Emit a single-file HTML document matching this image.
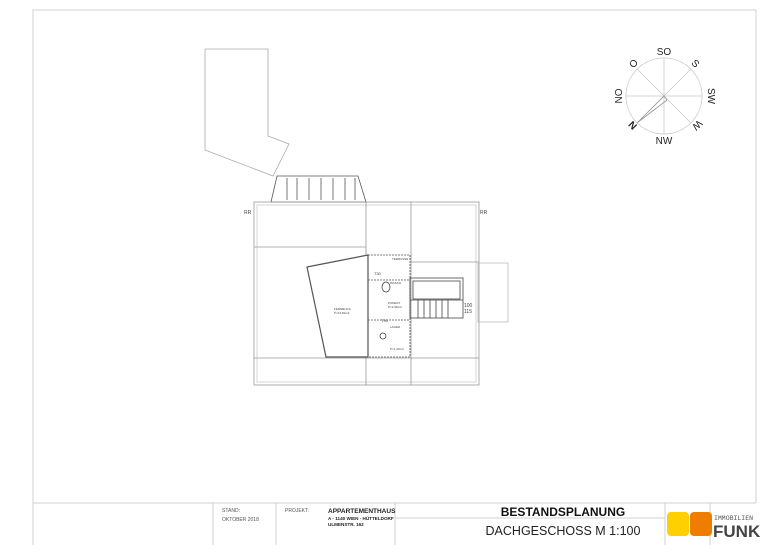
<!DOCTYPE html>
<html><head><meta charset="utf-8"><style>
html,body{margin:0;padding:0;background:#fff;}
svg{display:block;font-family:"Liberation Sans",sans-serif;}
</style></head><body>
<svg width="770" height="545" viewBox="0 0 770 545" xmlns="http://www.w3.org/2000/svg">
<!-- frame -->
<g fill="none" stroke="#d0d0d0" stroke-width="1">
<polyline points="33,545 33,10 756,10 756,503"/>
<line x1="33" y1="503" x2="756" y2="503"/>
<line x1="213" y1="503" x2="213" y2="545"/>
<line x1="276" y1="503" x2="276" y2="545"/>
<line x1="395" y1="503" x2="395" y2="545"/>
<line x1="395" y1="518" x2="665" y2="518"/>
<line x1="665" y1="503" x2="665" y2="545"/>
<line x1="710" y1="503" x2="710" y2="545"/>
</g>
<!-- title text -->
<text x="222" y="512" font-size="5" fill="#555">STAND:</text>
<text x="222" y="521" font-size="5" fill="#555">OKTOBER  2018</text>
<text x="285" y="512" font-size="5" fill="#555">PROJEKT:</text>
<text x="328" y="513" font-size="6.5" font-weight="bold" fill="#222">APPARTEMENTHAUS</text>
<text x="328" y="520" font-size="4.6" font-weight="bold" fill="#222">A - 1140 WIEN - HÜTTELDORF</text>
<text x="328" y="526" font-size="4.6" font-weight="bold" fill="#222">ULMENSTR.  162</text>
<text x="563" y="516" font-size="12" font-weight="bold" fill="#111" text-anchor="middle">BESTANDSPLANUNG</text>
<text x="563" y="535" font-size="12.5" fill="#222" text-anchor="middle">DACHGESCHOSS M 1:100</text>
<rect x="667" y="512" width="22" height="24" rx="4" fill="#ffd000"/>
<rect x="690" y="512" width="22" height="24" rx="4" fill="#ee7d00"/>
<text x="714" y="520" font-size="6.5" fill="#555" font-family="Liberation Mono,monospace">IMMOBILIEN</text>
<text x="713" y="537" font-size="17" font-weight="bold" fill="#444">FUNK</text>
<!-- compass -->
<g fill="none" stroke="#c8c8c8" stroke-width="0.8">
<circle cx="664" cy="96" r="38"/>
<line x1="664" y1="58" x2="664" y2="134"/>
<line x1="626" y1="96" x2="702" y2="96"/>
<line x1="637" y1="69" x2="691" y2="123"/>
<line x1="691" y1="69" x2="637" y2="123"/>
<polyline points="637,123 664,96 667,100 637,123" stroke="#999"/>
</g>
<g font-size="10" fill="#222" text-anchor="middle">
<text x="664" y="55">SO</text>
<text x="664" y="144">NW</text>
<text x="633" y="67" transform="rotate(-45 633 63)">O</text>
<text x="696" y="67" transform="rotate(45 696 63)">S</text>
<text x="622" y="96" transform="rotate(-90 622 96)">NO</text>
<text x="708" y="96" transform="rotate(90 708 96)">SW</text>
<text x="633" y="128" transform="rotate(-135 633 125)" font-weight="bold">N</text>
<text x="697" y="128" transform="rotate(135 697 125)">W</text>
</g>
<!-- plan -->
<g fill="none" stroke="#aaa" stroke-width="0.8">
<polyline points="205,49 268,49 268,136 289,144 273,176 205,150 205,49"/>
</g>
<g fill="none" stroke="#555" stroke-width="0.8">
<polygon points="277,176 358,176 366,202 271,202"/>
<line x1="287" y1="178" x2="287" y2="200"/><line x1="297" y1="178" x2="297" y2="200"/>
<line x1="309" y1="178" x2="309" y2="200"/><line x1="321" y1="178" x2="321" y2="200"/>
<line x1="333" y1="178" x2="333" y2="200"/><line x1="345" y1="178" x2="345" y2="200"/>
<line x1="355" y1="178" x2="355" y2="200"/>
</g>
<g fill="none" stroke="#999" stroke-width="0.8">
<rect x="254" y="202" width="225" height="183"/>
<rect x="257" y="205" width="219" height="177" stroke="#ccc"/>
<line x1="366" y1="202" x2="366" y2="385"/>
<line x1="411" y1="202" x2="411" y2="385"/>
<line x1="254" y1="247" x2="366" y2="247"/>
<line x1="411" y1="262" x2="479" y2="262"/>
<line x1="254" y1="358" x2="479" y2="358"/>
<rect x="478" y="263" width="30" height="59" stroke="#bbb"/>
</g>
<g fill="#fff" stroke="#555" stroke-width="1.2">
<polygon points="307,267 368,255 368,357 326,357"/>
</g>
<g fill="none" stroke="#555" stroke-width="0.8" stroke-dasharray="2,1">
<rect x="368" y="255" width="42" height="102"/>
<line x1="368" y1="280" x2="410" y2="280"/>
<line x1="368" y1="320" x2="410" y2="320"/>
</g>
<g fill="none" stroke="#444" stroke-width="0.8">
<rect x="410" y="278" width="53" height="40"/>
<rect x="413" y="281" width="47" height="18"/>
<line x1="410" y1="300" x2="463" y2="300"/>
<line x1="418" y1="300" x2="418" y2="318"/><line x1="424" y1="300" x2="424" y2="318"/>
<line x1="430" y1="300" x2="430" y2="318"/><line x1="436" y1="300" x2="436" y2="318"/>
<line x1="442" y1="300" x2="442" y2="318"/><line x1="448" y1="300" x2="448" y2="318"/>
<ellipse cx="386" cy="287" rx="4" ry="5"/><ellipse cx="383" cy="336" rx="3" ry="3"/>
</g>
<g font-size="3" fill="#444">
<text x="334" y="310">FERNBLICK</text><text x="334" y="314">P=13,82m2</text>
<text x="388" y="304">PODEST</text><text x="388" y="308">P=2,96m2</text>
<text x="390" y="328">LAGER</text><text x="390" y="350">P=1,32m2</text>
<text x="392" y="260">TERRASSE</text><text x="390" y="284">WASCH</text>
<text x="464" y="307" font-size="5">100</text><text x="464" y="313" font-size="5">115</text>
<text x="244" y="214" font-size="5">RR</text><text x="480" y="214" font-size="5">RR</text>
<text x="381" y="322" font-size="4">T30</text><text x="374" y="275" font-size="4">T30</text>
</g>
</svg>
</body></html>
